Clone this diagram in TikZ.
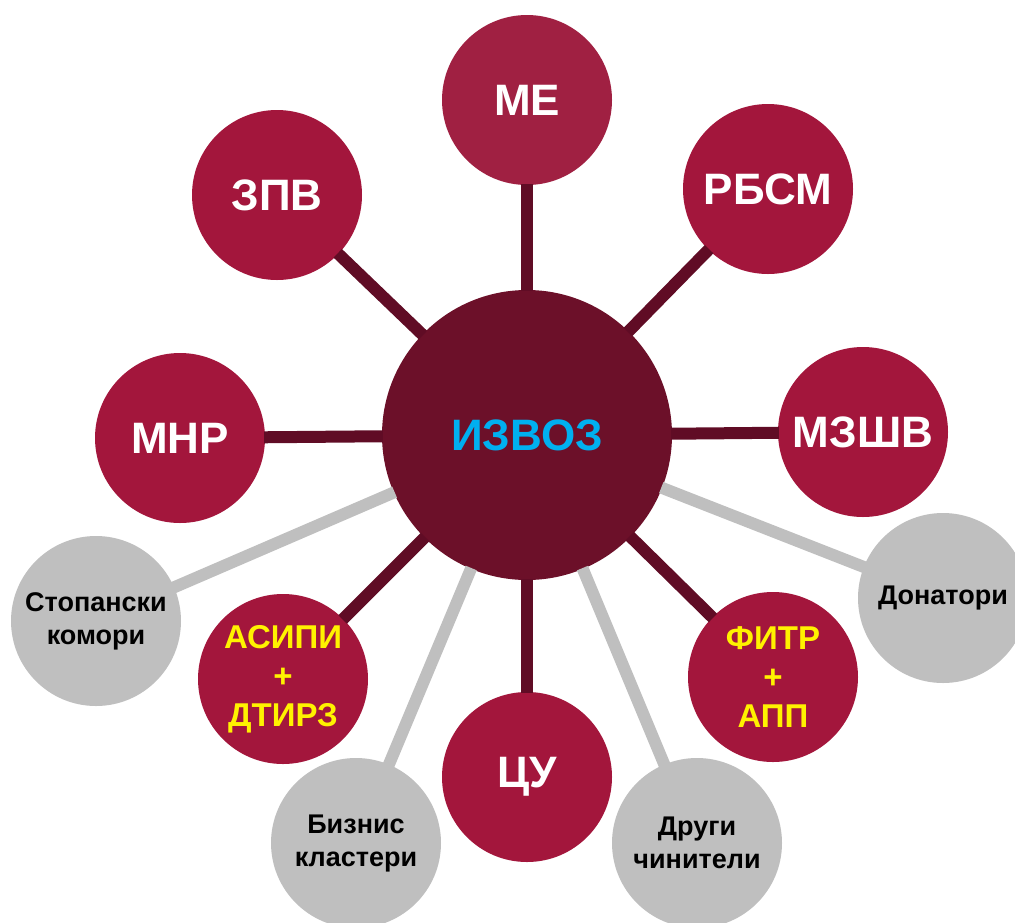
\documentclass[tikz,border=0pt]{standalone}
\usepackage{fontspec}
\setmainfont{Liberation Sans}
\definecolor{hubred}{HTML}{6C1029}
\definecolor{orgred}{HTML}{A3163C}
\definecolor{mered}{HTML}{A02042}
\definecolor{linered}{HTML}{600C25}
\definecolor{partgray}{HTML}{BFBFBF}
\definecolor{hubblue}{HTML}{00B0F0}
\tikzset{
  hub/.style={circle, fill=hubred, minimum size=290pt, inner sep=0pt,
    text=hubblue, font=\bfseries\fontsize{44}{48}\selectfont},
  org/.style={circle, fill=orgred, minimum size=170pt, inner sep=0pt,
    text=white, font=\bfseries\fontsize{44}{48}\selectfont},
  pair/.style={org, text=yellow, align=center,
    font=\bfseries\fontsize{33}{39}\selectfont},
  partner/.style={circle, fill=partgray, minimum size=170pt, inner sep=0pt,
    text=black, align=center, font=\bfseries\fontsize{27}{33}\selectfont},
  darkline/.style={draw=linered, line width=12pt, shorten <=-1pt, shorten >=-1pt},
  grayline/.style={draw=partgray, line width=12pt, shorten <=-1pt, shorten >=-1pt}
}
\begin{document}
\begin{tikzpicture}[x=1pt, y=-1pt]
  \useasboundingbox (0,0) rectangle (1015,922);
  \node[hub] (izvoz) at (527,435) {ИЗВОЗ};
  \node[org, fill=mered] (me) at (527,100) {МЕ};
  \node[org] (zpv) at (277,195) {ЗПВ};
  \node[org] (rbsm) at (768,189) {РБСМ};
  \node[org] (mnr) at (180,438) {МНР};
  \node[org] (mzshv) at (863,432) {МЗШВ};
  \node[org] (cu) at (527,777) {ЦУ};
  \node[pair] (asipi) at (283,679) {АСИПИ\\+\\ДТИРЗ};
  \node[pair] (fitr) at (773,677) {ФИТР\\+\\АПП};
  \node[partner] (komori) at (96,621) {Стопански\\комори};
  \node[partner] (donatori) at (943,598) {Донатори};
  \node[partner] (klasteri) at (356,843) {Бизнис\\кластери};
  \node[partner] (chiniteli) at (697,843) {Други\\чинители};
  \path[grayline]
    (izvoz) edge (komori)
            edge (klasteri)
            edge (chiniteli)
            edge (donatori);
  \path[darkline]
    (izvoz) edge (me)
            edge (zpv)
            edge (rbsm)
            edge (mnr)
            edge (mzshv)
            edge (cu)
            edge (asipi)
            edge (fitr);
\end{tikzpicture}
\end{document}
